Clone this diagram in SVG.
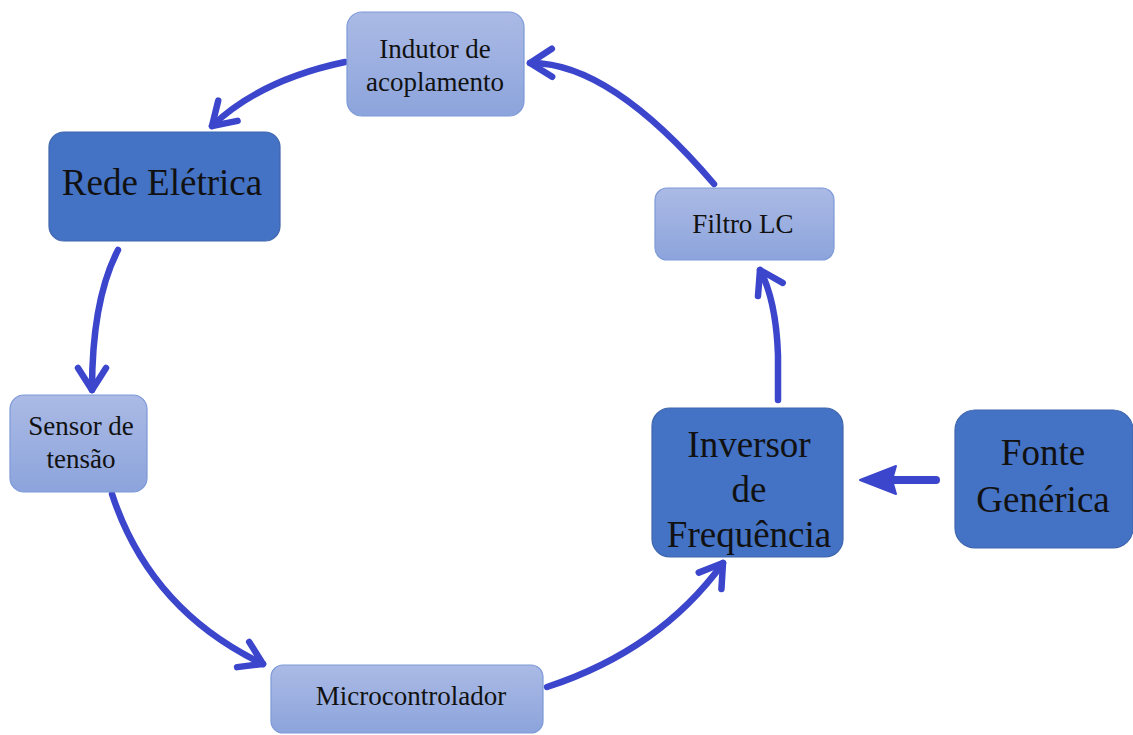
<svg xmlns="http://www.w3.org/2000/svg" width="1133" height="735" viewBox="0 0 1133 735">
<style>
.light{fill:url(#lg);stroke:#7d99d8;stroke-width:1.2}
.dark{fill:#4472c4;stroke:#3f66ad;stroke-width:1.2}
.t1{font-family:"Liberation Serif","Times New Roman",serif;font-size:27px;fill:#111;text-anchor:middle}
.t2{font-family:"Liberation Serif","Times New Roman",serif;font-size:37px;fill:#111;text-anchor:middle}
.c{fill:none;stroke:#3c46cc;stroke-width:6.5;stroke-linecap:round;stroke-linejoin:round}
</style>
<defs>
<linearGradient id="lg" x1="0" y1="0" x2="0" y2="1">
<stop offset="0" stop-color="#abbae5"/>
<stop offset="1" stop-color="#8ca4dc"/>
</linearGradient>
<marker id="ch" markerUnits="userSpaceOnUse" markerWidth="60" markerHeight="60" refX="0" refY="0" orient="auto" overflow="visible" viewBox="-30 -30 60 60">
<path d="M -22 -14 L 0 0 L -22 14" fill="none" stroke="#3c46cc" stroke-width="6.5" stroke-linecap="round" stroke-linejoin="round"/>
</marker>
</defs>
<g id="connectors">
<path class="c" d="M 345 62 Q 260 80 212 126" marker-end="url(#ch)"/>
<path class="c" d="M 714 184 Q 610 62 530 63" marker-end="url(#ch)"/>
<path class="c" d="M 118 250 Q 92 300 92 390" marker-end="url(#ch)"/>
<path class="c" d="M 112 494 Q 150 610 263 664" marker-end="url(#ch)"/>
<path class="c" d="M 547 687 Q 660 650 723 563" marker-end="url(#ch)"/>
<path class="c" d="M 778 400 L 778 355 Q 776 300 760 270" marker-end="url(#ch)"/>
<path d="M 936 480 L 890 480" fill="none" stroke="#3c46cc" stroke-width="8" stroke-linecap="round"/>
<polygon points="860,480 896,466 892,480 896,494" fill="#3c46cc" stroke="#3c46cc" stroke-width="2" stroke-linejoin="round"/>
</g>
<g id="indutor">
<rect class="light" x="347" y="12" width="177" height="104" rx="15"/>
<text class="t1" x="435" y="58">Indutor de</text>
<text class="t1" x="435" y="91">acoplamento</text>
</g>
<g id="rede">
<rect class="dark" x="49" y="132" width="231" height="109" rx="15"/>
<text class="t2" x="162" y="195">Rede Elétrica</text>
</g>
<g id="filtro">
<rect class="light" x="655" y="188" width="179" height="72" rx="12"/>
<text class="t1" x="743" y="233">Filtro LC</text>
</g>
<g id="sensor">
<rect class="light" x="10" y="395" width="137" height="97" rx="14"/>
<text class="t1" x="81" y="435">Sensor de</text>
<text class="t1" x="81" y="468">tensão</text>
</g>
<g id="micro">
<rect class="light" x="271" y="665" width="272" height="68" rx="12"/>
<text class="t1" x="411" y="705">Microcontrolador</text>
</g>
<g id="inversor">
<rect class="dark" x="652" y="408" width="191" height="149" rx="18"/>
<text class="t2" x="749" y="457">Inversor</text>
<text class="t2" x="749" y="502">de</text>
<text class="t2" x="749" y="547">Frequência</text>
</g>
<g id="fonte">
<rect class="dark" x="955" y="410" width="178" height="138" rx="20"/>
<text class="t2" x="1043" y="465">Fonte</text>
<text class="t2" x="1043" y="512">Genérica</text>
</g>
</svg>
